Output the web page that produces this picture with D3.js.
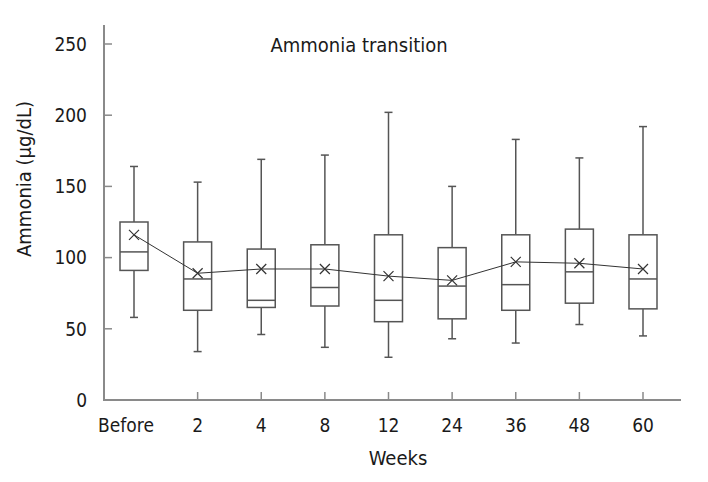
<!DOCTYPE html>
<html>
<head>
<meta charset="utf-8">
<script src="https://cdn.jsdelivr.net/npm/d3@7/dist/d3.min.js"></script>
<style>
body{margin:0;background:#fff;}
text{font-family:"DejaVu Sans Condensed","DejaVu Sans",sans-serif;font-stretch:condensed;fill:#1a1a1a;}
</style>
</head>
<body>
<svg id="chart"></svg>
<script>
// data
var weeks = ['Before','2','4','8','12','24','36','48','60'];
var whiskerHi = [164, 153, 169, 172, 202, 150, 183, 170, 192];
var q3 = [125, 111, 106, 109, 116, 107, 116, 120, 116];
var median = [104, 85, 70, 79, 70, 80, 81, 90, 85];
var q1 = [91, 63, 65, 66, 55, 57, 63, 68, 64];
var whiskerLo = [58, 34, 46, 37, 30, 43, 40, 53, 45];
var means = [116, 89, 92, 92, 87, 84, 97, 96, 92];
var yTicks = [0, 50, 100, 150, 200, 250];

var width = 708, height = 482;
var svg = d3.select('#chart').attr('width',width).attr('height',height);

var axisColor = '#8a8a8a', boxColor = '#555';
var boxW = 28, capW = 8;

var xScale = d3.scalePoint().domain(weeks).range([134,643]);
var yScale = d3.scaleLinear().domain([0,250]).range([400,44]);

var rows = weeks.map(function(w,i){
	return {w:w, hi:whiskerHi[i], q3:q3[i], med:median[i], q1:q1[i], lo:whiskerLo[i], mean:means[i]};
});

// axes
svg.append('line').attr('x1',104).attr('x2',104).attr('y1',25).attr('y2',401)
	.style('stroke',axisColor).style('stroke-width',2);
svg.append('line').attr('x1',103).attr('x2',681).attr('y1',400).attr('y2',400)
	.style('stroke',axisColor).style('stroke-width',2);

var yg = svg.append('g');
yg.selectAll('line').data(yTicks).enter().append('line')
	.attr('x1',104).attr('x2',112)
	.attr('y1',function(d){return yScale(d);}).attr('y2',function(d){return yScale(d);})
	.style('stroke',axisColor).style('stroke-width',1.5);
yg.selectAll('text').data(yTicks).enter().append('text')
	.attr('x',87).attr('y',function(d){return yScale(d);})
	.attr('dy','0.36em').attr('text-anchor','end')
	.style('font-size','19px').text(function(d){return d;});

var xg = svg.append('g');
xg.selectAll('line').data(weeks.slice(1)).enter().append('line')
	.attr('x1',function(d){return xScale(d);}).attr('x2',function(d){return xScale(d);})
	.attr('y1',392).attr('y2',400)
	.style('stroke',axisColor).style('stroke-width',1.5);
xg.selectAll('text').data(weeks).enter().append('text')
	.attr('x',function(d,i){return i===0 ? 126 : xScale(d);}).attr('y',432)
	.attr('text-anchor','middle')
	.style('font-size','19px').text(function(d){return d;});

// boxes
var bg = svg.append('g');
var box = bg.selectAll('g').data(rows).enter().append('g')
	.attr('transform',function(d){return 'translate('+xScale(d.w)+',0)';});
box.append('line').attr('x1',0).attr('x2',0)
	.attr('y1',function(d){return yScale(d.hi);}).attr('y2',function(d){return yScale(d.q3);})
	.style('stroke',boxColor).style('stroke-width',1.5);
box.append('line').attr('x1',0).attr('x2',0)
	.attr('y1',function(d){return yScale(d.q1);}).attr('y2',function(d){return yScale(d.lo);})
	.style('stroke',boxColor).style('stroke-width',1.5);
box.append('line').attr('x1',-capW/2).attr('x2',capW/2)
	.attr('y1',function(d){return yScale(d.hi);}).attr('y2',function(d){return yScale(d.hi);})
	.style('stroke',boxColor).style('stroke-width',1.5);
box.append('line').attr('x1',-capW/2).attr('x2',capW/2)
	.attr('y1',function(d){return yScale(d.lo);}).attr('y2',function(d){return yScale(d.lo);})
	.style('stroke',boxColor).style('stroke-width',1.5);
box.append('rect').attr('x',-boxW/2).attr('width',boxW)
	.attr('y',function(d){return yScale(d.q3);})
	.attr('height',function(d){return yScale(d.q1)-yScale(d.q3);})
	.style('fill','#fff').style('stroke',boxColor).style('stroke-width',1.5);
box.append('line').attr('x1',-boxW/2).attr('x2',boxW/2)
	.attr('y1',function(d){return yScale(d.med);}).attr('y2',function(d){return yScale(d.med);})
	.style('stroke',boxColor).style('stroke-width',1.5);

// mean line + x markers
var meanLine = d3.line()
	.x(function(d){return xScale(d.w);})
	.y(function(d){return yScale(d.mean);});
svg.append('path').datum(rows).attr('d',meanLine)
	.style('fill','none').style('stroke','#333').style('stroke-width',1);
var s = 5;
svg.append('g').selectAll('path').data(rows).enter().append('path')
	.attr('d',function(d){
		var x = xScale(d.w), y = yScale(d.mean);
		return 'M'+(x-s)+','+(y-s)+'L'+(x+s)+','+(y+s)+'M'+(x-s)+','+(y+s)+'L'+(x+s)+','+(y-s);
	})
	.style('stroke','#333').style('stroke-width',1.2).style('fill','none');

// titles
svg.append('text').attr('x',359).attr('y',52).attr('text-anchor','middle')
	.style('font-size','20px').text('Ammonia transition');
svg.append('text').attr('x',398).attr('y',465).attr('text-anchor','middle')
	.style('font-size','20px').text('Weeks');
svg.append('text').attr('transform','translate(31,179) rotate(-90)')
	.attr('text-anchor','middle')
	.style('font-size','20px').text('Ammonia (\u03bcg/dL)');
</script>
</body>
</html>
